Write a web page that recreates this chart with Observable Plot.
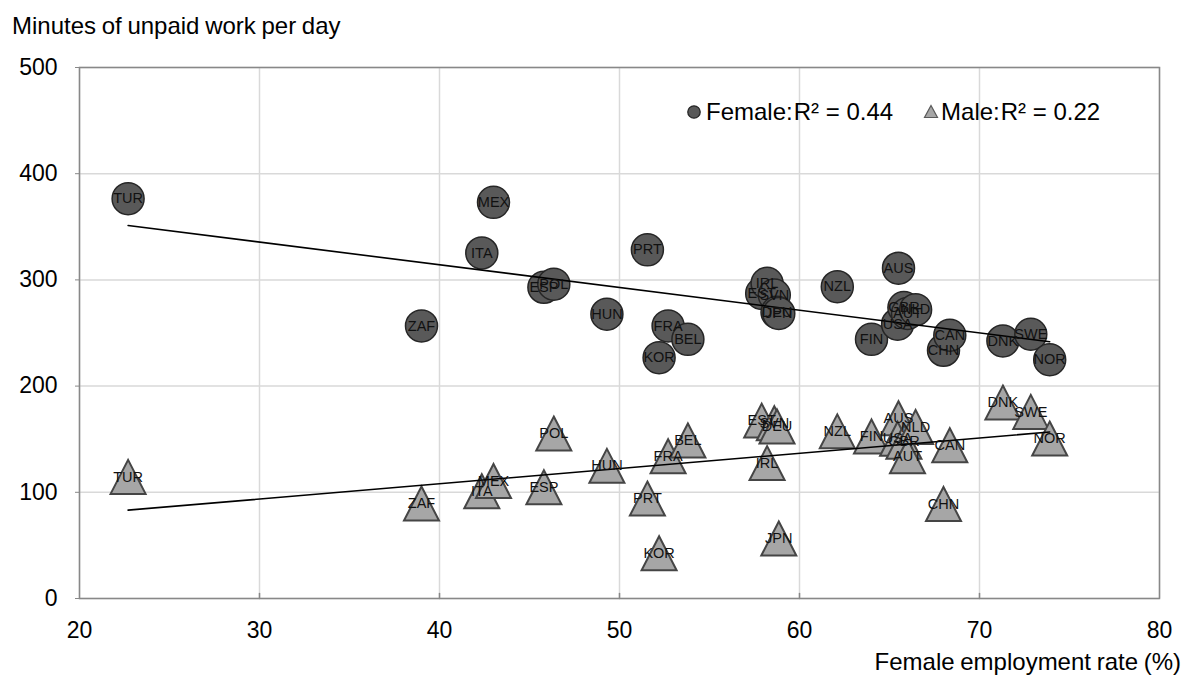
<!DOCTYPE html>
<html>
<head>
<meta charset="utf-8">
<script src="https://cdn.jsdelivr.net/npm/d3@7"></script>
<script src="https://cdn.jsdelivr.net/npm/@observablehq/plot@0.6"></script>
<style>
  html, body { margin: 0; padding: 0; background: #fff; }
  #wrap { position: relative; width: 1184px; height: 675px; font-family: "Liberation Sans", Arial, sans-serif; color: #000; }
  #ytitle { position: absolute; left: 12px; top: 12px; font-size: 24px; word-spacing: -1px; white-space: nowrap; }
  #xtitle { position: absolute; right: 3px; top: 648px; font-size: 24px; word-spacing: -1px; white-space: nowrap; }
  #legend { position: absolute; left: 686px; top: 98px; font-size: 24px; display: flex; align-items: center; white-space: nowrap; }
  #legend svg { display: block; }
  .lg { display: flex; align-items: center; }
</style>
</head>
<body>
<div id="wrap">
  <div id="chart"></div>
  <div id="ytitle">Minutes of unpaid work per day</div>
  <div id="xtitle">Female employment rate (%)</div>
  <div id="legend">
    <span class="lg"><svg width="16" height="16"><circle cx="8" cy="8" r="6.2" fill="#595959" stroke="#262626" stroke-width="1.3"/></svg><span style="margin-left:4px">Female:</span><span style="margin-left:1px">R² = 0.44</span></span>
    <span class="lg" style="margin-left:30px"><svg width="16" height="16"><path d="M8,1.5 L14.5,13.5 L1.5,13.5 Z" fill="#a6a6a6" stroke="#595959" stroke-width="1.2"/></svg><span style="margin-left:2px">Male:</span><span style="margin-left:1px">R² = 0.22</span></span>
  </div>
</div>
<script>
// Country codes
const countries = ["TUR","ZAF","ITA","MEX","ESP","POL","HUN","PRT","KOR","FRA","BEL","EST","IRL","SVN","DEU","JPN","NZL","FIN","AUS","USA","GBR","AUT","NLD","CHN","CAN","DNK","SWE","NOR"];
// Female employment rate (%)
const employment = [22.7,39.0,42.35,43.0,45.8,46.35,49.3,51.55,52.2,52.7,53.8,57.9,58.2,58.6,58.75,58.85,62.1,64.0,65.5,65.45,65.8,66.0,66.45,68.0,68.35,71.3,72.85,73.9];
// Minutes of unpaid work per day, women
const femaleUnpaid = [376.5,256.7,325.4,373,293,296,267.7,328.3,226.8,256.7,244,287.3,296.8,285.7,269.5,268.4,293.6,244,311,258.3,274,268.4,272,233.7,247.9,242.5,248.8,224.9];
// Minutes of unpaid work per day, men
const maleUnpaid = [114.5,89.4,101,110.7,104.7,155.3,124.9,94.1,42.6,134,148.8,167.5,127.5,165,162,56.5,157.4,152.5,169.8,150.4,147.6,133.9,161.5,89,144.3,184.5,175.7,150.6];
const xTicks = [20,30,40,50,60,70,80];
const yTicks = [0,100,200,300,400,500];

const female = countries.map((c, i) => ({c, x: employment[i], y: femaleUnpaid[i]}));
const male = countries.map((c, i) => ({c, x: employment[i], y: maleUnpaid[i]}));

// triangle centred on its bounding box
const triangle = {
  draw(ctx, size) {
    const a = Math.sqrt(size / Math.PI);
    ctx.moveTo(0, -a);
    ctx.lineTo(a * 1.03, a);
    ctx.lineTo(-a * 1.03, a);
    ctx.closePath();
  }
};
// plain tick stroke for inward x ticks
const tickShape = {
  draw(ctx, l) { ctx.moveTo(0, 0); ctx.lineTo(0, -l); }
};

const font = "Liberation Sans, Arial, sans-serif";

const chart = Plot.plot({
  width: 1184,
  height: 675,
  marginLeft: 79,
  marginRight: 25,
  marginTop: 67,
  marginBottom: 77,
  style: {fontFamily: font, fontSize: "23px", background: "transparent", color: "#000"},
  x: {domain: [20, 80]},
  y: {domain: [0, 500]},
  marks: [
    Plot.gridX(xTicks, {stroke: "#d9d9d9", strokeOpacity: 1, strokeWidth: 1.5}),
    Plot.gridY(yTicks, {stroke: "#d9d9d9", strokeOpacity: 1, strokeWidth: 1.5}),
    Plot.axisX(xTicks, {tickSize: 0, tickPadding: 23, label: null, fontSize: 23, fill: "#000"}),
    Plot.axisY(yTicks, {tickSize: 4, tickPadding: 18, label: null, fontSize: 23, fill: "#000", stroke: "#888"}),
    Plot.vectorX(xTicks.slice(1, -1), {x: d => d, frameAnchor: "bottom", length: 5, rotate: 0, anchor: "start", shape: tickShape, stroke: "#888", strokeWidth: 1.5}),
    Plot.frame({stroke: "#888", strokeWidth: 1.5}),
    Plot.dot(female, {x: "x", y: "y", r: 16, fill: "#595959", stroke: "#262626", strokeWidth: 1.5}),
    Plot.dot(male, {x: "x", y: "y", r: 17, symbol: triangle, fill: "#a6a6a6", stroke: "#454545", strokeWidth: 2}),
    Plot.linearRegressionY(female, {x: "x", y: "y", ci: 0, stroke: "#000", strokeWidth: 1.6}),
    Plot.linearRegressionY(male, {x: "x", y: "y", ci: 0, stroke: "#000", strokeWidth: 1.6}),
    Plot.text(female, {x: "x", y: "y", text: "c", fontSize: 14.5, fill: "#111"}),
    Plot.text(male, {x: "x", y: "y", text: "c", fontSize: 14.5, fill: "#111"})
  ]
});
document.getElementById("chart").appendChild(chart);
</script>
</body>
</html>
